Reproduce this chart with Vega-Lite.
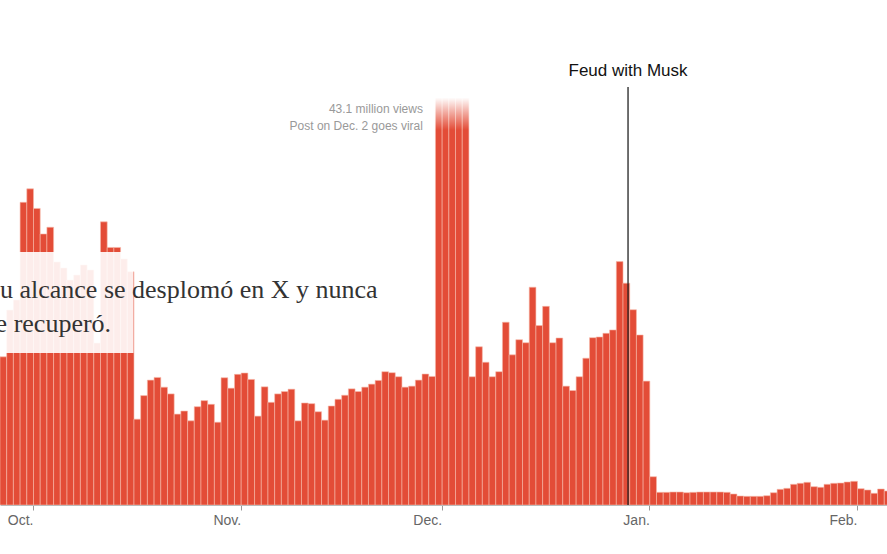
{
  "$schema": "https://vega.github.io/schema/vega-lite/v6.json",
  "width": 887,
  "height": 505,
  "padding": {"left": 0, "top": 0, "right": 0, "bottom": 49},
  "autosize": {"type": "none"},
  "background": "white",
  "config": {"view": {"stroke": null}},
  "layer": [
    {
      "data": {"values": [
        {"date":"2024-09-26","views":4.40},{"date":"2024-09-27","views":5.79},{"date":"2024-09-28","views":6.09},{"date":"2024-09-29","views":8.99},{"date":"2024-09-30","views":9.39},
        {"date":"2024-10-01","views":8.81},{"date":"2024-10-02","views":8.05},{"date":"2024-10-03","views":8.25},{"date":"2024-10-04","views":7.22},{"date":"2024-10-05","views":7.04},
        {"date":"2024-10-06","views":6.68},{"date":"2024-10-07","views":6.83},{"date":"2024-10-08","views":7.13},{"date":"2024-10-09","views":6.98},{"date":"2024-10-10","views":4.81},
        {"date":"2024-10-11","views":8.41},{"date":"2024-10-12","views":7.65},{"date":"2024-10-13","views":7.65},{"date":"2024-10-14","views":7.31},{"date":"2024-10-15","views":6.93},
        {"date":"2024-10-16","views":2.55},{"date":"2024-10-17","views":3.25},{"date":"2024-10-18","views":3.71},{"date":"2024-10-19","views":3.79},{"date":"2024-10-20","views":3.50},
        {"date":"2024-10-21","views":3.30},{"date":"2024-10-22","views":2.70},{"date":"2024-10-23","views":2.79},{"date":"2024-10-24","views":2.50},{"date":"2024-10-25","views":2.92},
        {"date":"2024-10-26","views":3.10},{"date":"2024-10-27","views":2.99},{"date":"2024-10-28","views":2.46},{"date":"2024-10-29","views":3.78},{"date":"2024-10-30","views":3.47},
        {"date":"2024-10-31","views":3.88},{"date":"2024-11-01","views":3.92},{"date":"2024-11-02","views":3.73},{"date":"2024-11-03","views":2.64},{"date":"2024-11-04","views":3.51},
        {"date":"2024-11-05","views":3.05},{"date":"2024-11-06","views":3.30},{"date":"2024-11-07","views":3.37},{"date":"2024-11-08","views":3.44},{"date":"2024-11-09","views":2.50},
        {"date":"2024-11-10","views":3.03},{"date":"2024-11-11","views":3.01},{"date":"2024-11-12","views":2.77},{"date":"2024-11-13","views":2.52},{"date":"2024-11-14","views":2.94},
        {"date":"2024-11-15","views":3.14},{"date":"2024-11-16","views":3.26},{"date":"2024-11-17","views":3.45},{"date":"2024-11-18","views":3.37},{"date":"2024-11-19","views":3.50},
        {"date":"2024-11-20","views":3.59},{"date":"2024-11-21","views":3.70},{"date":"2024-11-22","views":3.96},{"date":"2024-11-23","views":3.93},{"date":"2024-11-24","views":3.81},
        {"date":"2024-11-25","views":3.50},{"date":"2024-11-26","views":3.53},{"date":"2024-11-27","views":3.71},{"date":"2024-11-28","views":3.89},{"date":"2024-11-29","views":3.82},
        {"date":"2024-11-30","views":16.0},{"date":"2024-12-01","views":28.0},{"date":"2024-12-02","views":43.1},{"date":"2024-12-03","views":24.0},{"date":"2024-12-04","views":15.5},
        {"date":"2024-12-05","views":3.81},{"date":"2024-12-06","views":4.70},{"date":"2024-12-07","views":4.24},{"date":"2024-12-08","views":3.81},{"date":"2024-12-09","views":3.96},
        {"date":"2024-12-10","views":5.43},{"date":"2024-12-11","views":4.46},{"date":"2024-12-12","views":4.91},{"date":"2024-12-13","views":4.82},{"date":"2024-12-14","views":6.47},
        {"date":"2024-12-15","views":5.33},{"date":"2024-12-16","views":5.90},{"date":"2024-12-17","views":4.82},{"date":"2024-12-18","views":4.96},{"date":"2024-12-19","views":3.53},
        {"date":"2024-12-20","views":3.40},{"date":"2024-12-21","views":3.81},{"date":"2024-12-22","views":4.36},{"date":"2024-12-23","views":4.97},{"date":"2024-12-24","views":4.99},
        {"date":"2024-12-25","views":5.10},{"date":"2024-12-26","views":5.20},{"date":"2024-12-27","views":7.23},{"date":"2024-12-28","views":6.59},{"date":"2024-12-29","views":5.80},
        {"date":"2024-12-30","views":5.05},{"date":"2024-12-31","views":3.68},
        {"date":"2025-01-01","views":0.84},{"date":"2025-01-02","views":0.377},{"date":"2025-01-03","views":0.377},{"date":"2025-01-04","views":0.386},{"date":"2025-01-05","views":0.386},
        {"date":"2025-01-06","views":0.365},{"date":"2025-01-07","views":0.377},{"date":"2025-01-08","views":0.386},{"date":"2025-01-09","views":0.386},{"date":"2025-01-10","views":0.386},
        {"date":"2025-01-11","views":0.386},{"date":"2025-01-12","views":0.377},{"date":"2025-01-13","views":0.327},{"date":"2025-01-14","views":0.267},{"date":"2025-01-15","views":0.258},
        {"date":"2025-01-16","views":0.258},{"date":"2025-01-17","views":0.258},{"date":"2025-01-18","views":0.276},{"date":"2025-01-19","views":0.365},{"date":"2025-01-20","views":0.466},
        {"date":"2025-01-21","views":0.496},{"date":"2025-01-22","views":0.615},{"date":"2025-01-23","views":0.645},{"date":"2025-01-24","views":0.674},{"date":"2025-01-25","views":0.544},
        {"date":"2025-01-26","views":0.526},{"date":"2025-01-27","views":0.615},{"date":"2025-01-28","views":0.645},{"date":"2025-01-29","views":0.653},{"date":"2025-01-30","views":0.683},
        {"date":"2025-01-31","views":0.704},{"date":"2025-02-01","views":0.484},{"date":"2025-02-02","views":0.446},{"date":"2025-02-03","views":0.348},{"date":"2025-02-04","views":0.475},
        {"date":"2025-02-05","views":0.416}
      ]},
      "mark": {"type": "bar", "color": "#e34c37", "binSpacing": 0, "stroke": "#f6b8aa", "strokeWidth": 0.6, "clip": true},
      "encoding": {
        "x": {"field": "date", "type": "temporal", "timeUnit": "utcyearmonthdate",
          "scale": {"type": "utc", "domain": [{"year":2024,"month":9,"date":26,"hours":1,"minutes":47,"utc":true},{"year":2025,"month":2,"date":5,"hours":11,"minutes":30,"utc":true}]},
          "axis": {"values": [{"year":2024,"month":10,"date":1,"utc":true},{"year":2024,"month":11,"date":1,"utc":true},{"year":2024,"month":12,"date":1,"utc":true},{"year":2025,"month":1,"date":1,"utc":true},{"year":2025,"month":2,"date":1,"utc":true}],
            "labelExpr": "utcFormat(datum.value, '%b.')", "title": null, "grid": false,
            "domainColor": "#bbbbbb", "tickColor": "#999999", "tickSize": 5,
            "labelColor": "#666666", "labelFont": "Liberation Sans", "labelFontSize": 14,
            "labelAlign": "right", "labelPadding": 3, "labelFlush": false, "labelOverlap": false}},
        "y": {"field": "views", "type": "quantitative", "scale": {"domain": [0, 15], "nice": false, "zero": true}, "axis": null}
      }
    },
    {
      "data": {"values": [{"x1": "2024-09-20", "x2": "2024-10-16", "y1": 4.515, "y2": 7.515}]},
      "mark": {"type": "rect", "fill": "white", "opacity": 0.9, "clip": true},
      "encoding": {
        "x": {"field": "x1", "type": "temporal"},
        "x2": {"field": "x2"},
        "y": {"field": "y1", "type": "quantitative", "scale": {"domain": [0, 15], "nice": false}},
        "y2": {"field": "y2"}
      }
    },
    {
      "data": {"values": [{"x1": "2024-11-29T18:00:00Z", "x2": "2024-12-06T00:00:00Z", "y1": 11.139, "y2": 15}]},
      "mark": {"type": "rect", "clip": true,
        "fill": {"gradient": "linear", "x1": 0, "y1": 0, "x2": 0, "y2": 1,
          "stops": [{"offset": 0, "color": "rgba(255,255,255,1)"}, {"offset": 0.75, "color": "rgba(255,255,255,1)"}, {"offset": 0.86, "color": "rgba(255,255,255,0.55)"}, {"offset": 1, "color": "rgba(255,255,255,0)"}]}},
      "encoding": {
        "x": {"field": "x1", "type": "temporal"},
        "x2": {"field": "x2"},
        "y": {"field": "y1", "type": "quantitative", "scale": {"domain": [0, 15], "nice": false}},
        "y2": {"field": "y2"}
      }
    },
    {
      "data": {"values": [{"date": "2024-12-28T19:45:00Z", "top": 12.416, "bottom": 0}]},
      "mark": {"type": "rule", "color": "#222222", "strokeWidth": 1.3},
      "encoding": {
        "x": {"field": "date", "type": "temporal"},
        "y": {"field": "top", "type": "quantitative", "scale": {"domain": [0, 15], "nice": false}},
        "y2": {"field": "bottom"}
      }
    },
    {
      "data": {"values": [{"date": "2024-12-28T19:45:00Z", "y": 12.728, "label": "Feud with Musk"}]},
      "mark": {"type": "text", "align": "center", "baseline": "alphabetic", "font": "Liberation Sans", "fontSize": 17, "color": "#121212"},
      "encoding": {
        "x": {"field": "date", "type": "temporal"},
        "y": {"field": "y", "type": "quantitative", "scale": {"domain": [0, 15], "nice": false}},
        "text": {"field": "label"}
      }
    },
    {
      "data": {"values": [
        {"date": "2024-11-28T05:00:00Z", "y": 11.635, "label": "43.1 million views"},
        {"date": "2024-11-28T05:00:00Z", "y": 11.139, "label": "Post on Dec. 2 goes viral"}
      ]},
      "mark": {"type": "text", "align": "right", "baseline": "alphabetic", "font": "Liberation Sans", "fontSize": 12, "color": "#999999"},
      "encoding": {
        "x": {"field": "date", "type": "temporal"},
        "y": {"field": "y", "type": "quantitative", "scale": {"domain": [0, 15], "nice": false}},
        "text": {"field": "label"}
      }
    },
    {
      "data": {"values": [
        {"date": "2024-09-23T21:50:00Z", "y": 6.157, "label": "Su alcance se desplomó en X y nunca"},
        {"date": "2024-09-23T21:50:00Z", "y": 5.147, "label": "se recuperó."}
      ]},
      "mark": {"type": "text", "align": "left", "baseline": "alphabetic", "font": "Liberation Serif", "fontSize": 26, "color": "#333333", "clip": true},
      "encoding": {
        "x": {"field": "date", "type": "temporal"},
        "y": {"field": "y", "type": "quantitative", "scale": {"domain": [0, 15], "nice": false}},
        "text": {"field": "label"}
      }
    }
  ]
}
